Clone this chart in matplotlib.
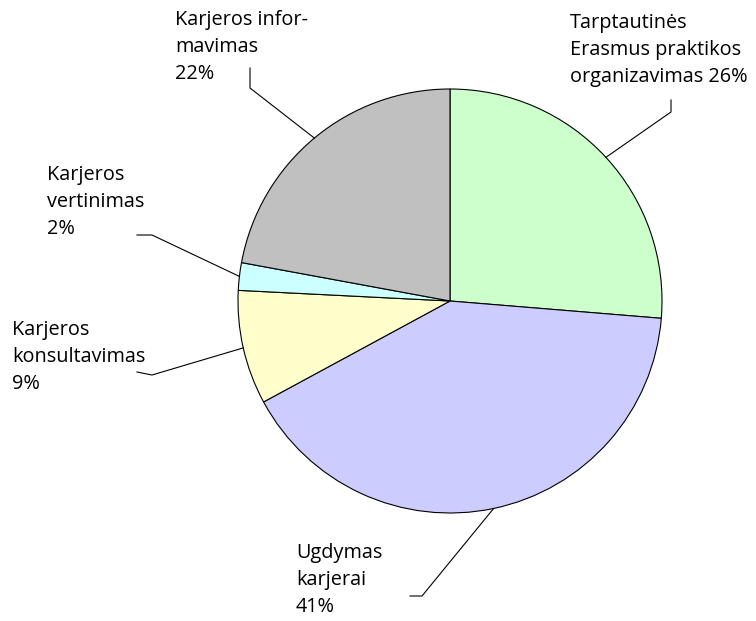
import matplotlib.pyplot as plt
import numpy as np

labels = ['Tarptautinės\nErasmus praktikos\norganizavimas 26%',
          'Ugdymas\nkarjerai\n41%',
          'Karjeros\nkonsultavimas\n9%',
          'Karjeros\nvertinimas\n2%',
          'Karjeros infor-\nmavimas\n22%']
values = [26.3, 40.8, 8.7, 2.1, 22.1]
colors = ['#CCFFCC', '#CCCCFF', '#FFFFCC', '#CCFFFF', '#C0C0C0']

H = 621
# label anchor (left x, middle-line y in px from top) and leader elbow points
text_pos = [(570, 50), (296, 580), (12, 357), (47, 202), (175, 47)]
elbows = [[(671, 112), (671, 100)],
          [(422, 596), (410, 596)],
          [(152, 375), (137, 372)],
          [(152, 235), (137, 235)],
          [(250, 88), (250, 68)]]

plt.rcParams['font.family'] = ['Open Sans', 'DejaVu Sans']

fig = plt.figure(figsize=(7.56, 6.21), dpi=100)
ax = fig.add_axes([0, 0, 1, 1])
cx, cy, r = 450, H - 301, 212
wedges, _ = ax.pie(values, colors=colors, startangle=90, counterclock=False,
                   center=(cx, cy), radius=r,
                   wedgeprops=dict(edgecolor='black', linewidth=0.8))
ax.set_xlim(0, 756)
ax.set_ylim(0, H)
ax.set_aspect('equal')
ax.axis('off')

for w, lab, (tx, ty), elb in zip(wedges, labels, text_pos, elbows):
    ang = np.deg2rad((w.theta1 + w.theta2) / 2)
    x0, y0 = cx + r * np.cos(ang), cy + r * np.sin(ang)
    xs = [x0] + [p[0] for p in elb]
    ys = [y0] + [H - p[1] for p in elb]
    ax.plot(xs, ys, color='black', linewidth=0.8)
    ax.text(tx, H - ty, lab, ha='left', va='center', fontsize=14.3,
            linespacing=1.45, color='black')

plt.savefig('out.png')
